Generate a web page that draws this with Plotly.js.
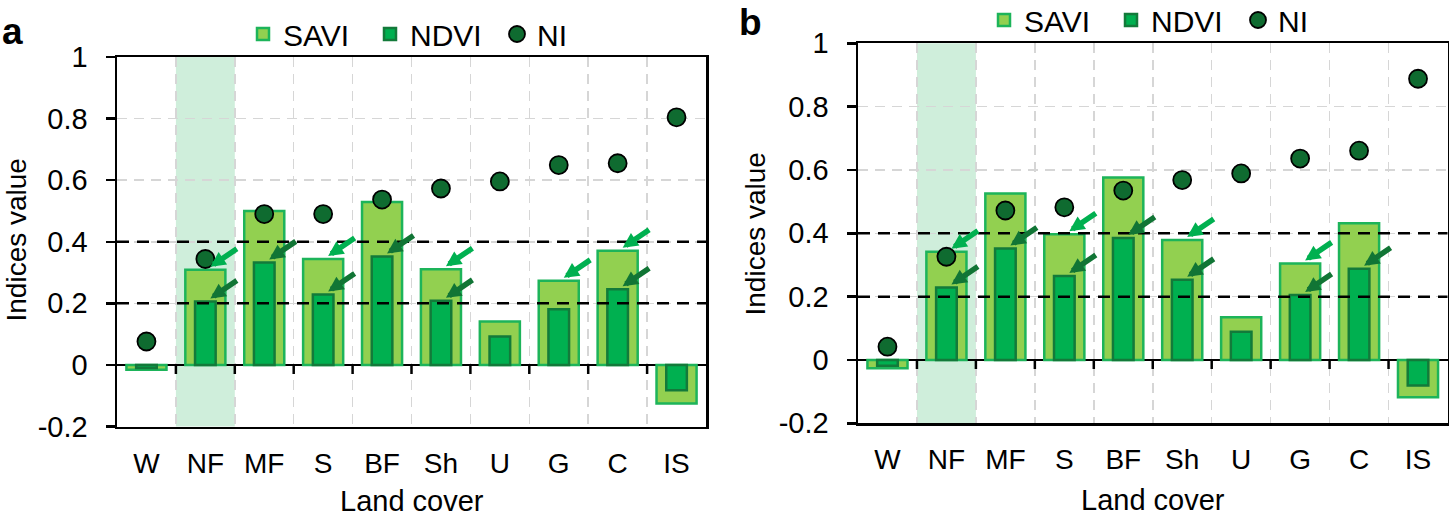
<!DOCTYPE html>
<html>
<head>
<meta charset="utf-8">
<script src="https://cdn.plot.ly/plotly-3.0.1.min.js"></script>
<style>
html,body{margin:0;padding:0;background:#fff;}
#chart{width:1449px;height:517px;}
</style>
</head>
<body>
<div id="chart"></div>
<script>
// ---- data ----
const categories = ['W','NF','MF','S','BF','Sh','U','G','C','IS'];
const saviA = [-0.016, 0.309, 0.500, 0.344, 0.529, 0.311, 0.141, 0.273, 0.371, -0.125];
const ndviA = [-0.010, 0.206, 0.333, 0.229, 0.352, 0.208, 0.092, 0.181, 0.246, -0.082];
const niA   = [0.076, 0.344, 0.490, 0.490, 0.537, 0.573, 0.596, 0.649, 0.655, 0.804];
const saviB = [-0.026, 0.342, 0.526, 0.397, 0.576, 0.379, 0.135, 0.305, 0.432, -0.118];
const ndviB = [-0.018, 0.229, 0.352, 0.265, 0.385, 0.253, 0.089, 0.205, 0.288, -0.081];
const niB   = [0.042, 0.326, 0.472, 0.482, 0.535, 0.568, 0.589, 0.636, 0.661, 0.888];
const arrowSaviA = ['NF','S','Sh','G','C'];
const arrowNdviA = ['NF','MF','S','BF','Sh','C'];
const arrowSaviB = ['NF','S','Sh','G'];
const arrowNdviB = ['NF','MF','S','BF','Sh','G','C'];
const highlightCat = 'NF';
const thresholds = [0.2, 0.4];
const yTickVals = [-0.2, 0, 0.2, 0.4, 0.6, 0.8, 1];
const yTickText = ['-0.2', '0', '0.2', '0.4', '0.6', '0.8', '1'];
const panelLabels = ['a', 'b'];
const seriesNames = ['SAVI', 'NDVI', 'NI'];
const xTitle = 'Land cover';
const yTitle = 'Indices value';

// ---- styles ----
const FONT = 'Liberation Sans, Arial, sans-serif';
const C_SAVI = '#92d050', C_SAVI_LINE = '#1db45a';
const C_NDVI = '#00b050', C_NDVI_LINE = '#137a3a';
const C_NI = '#0f6b30';
const C_ARROW_LIGHT = '#00b050', C_ARROW_DARK = '#117535';
const W = 1449, H = 517;

function makeTraces(savi, ndvi, ni, xa, ya, leg) {
  return [
    {type:'bar', name:seriesNames[0], x:categories, y:savi, xaxis:xa, yaxis:ya, legend:leg,
     width:0.68, marker:{color:C_SAVI, line:{color:C_SAVI_LINE, width:2.5}}},
    {type:'bar', name:seriesNames[1], x:categories, y:ndvi, xaxis:xa, yaxis:ya, legend:leg,
     width:0.35, marker:{color:C_NDVI, line:{color:C_NDVI_LINE, width:2.5}}},
    {type:'scatter', mode:'markers', name:seriesNames[2], x:categories, y:ni, xaxis:xa, yaxis:ya, legend:leg,
     marker:{color:C_NI, size:18, line:{color:'#000', width:1.8}}}
  ];
}

const data = [].concat(
  makeTraces(saviA, ndviA, niA, 'x', 'y', 'legend'),
  makeTraces(saviB, ndviB, niB, 'x2', 'y2', 'legend2')
);

function xAxis(domain, anchor) {
  return {domain:domain, anchor:anchor, type:'category', categoryorder:'array', categoryarray:categories,
    range:[-0.5, 9.5], tickson:'boundaries', ticks:'', showgrid:true, gridcolor:'#d6d6d6', gridwidth:1.5,
    griddash:'10px,7px', showline:true, mirror:true, linecolor:'#000', linewidth:2.5,
    tickfont:{family:FONT, size:28, color:'#000'}, ticklabelstandoff:10, fixedrange:true, automargin:false};
}
function yAxis(domain, anchor) {
  return {domain:domain, anchor:anchor, range:[-0.2, 1], tickvals:yTickVals, ticktext:yTickText,
    ticks:'outside', ticklen:9, tickwidth:2.5, tickcolor:'#000', showgrid:true, gridcolor:'#d6d6d6',
    gridwidth:1.5, griddash:'10px,7px', zeroline:true, zerolinecolor:'#000', zerolinewidth:2.5,
    showline:true, mirror:true, linecolor:'#000', linewidth:2.5,
    tickfont:{family:FONT, size:29, color:'#000'}, ticklabelstandoff:12, fixedrange:true, automargin:false};
}

const shapes = [];
const annotations = [];
[['x','y'],['x2','y2']].forEach(function(ax){
  const xi = categories.indexOf(highlightCat);
  shapes.push({type:'rect', xref:ax[0], yref:ax[1]+' domain', x0:xi-0.5, x1:xi+0.5, y0:0, y1:1,
    fillcolor:'#cfeedb', line:{width:0}, layer:'below'});
  thresholds.forEach(function(t){
    shapes.push({type:'line', xref:ax[0]+' domain', yref:ax[1], x0:0, x1:1, y0:t, y1:t,
      line:{color:'#000', width:2.5, dash:'12px,8px'}, layer:'above'});
  });
  for (let i = 0; i < categories.length - 1; i++) {
    shapes.push({type:'line', xref:ax[0], yref:ax[1], ysizemode:'pixel', yanchor:0,
      x0:i+0.5, x1:i+0.5, y0:0, y1:-9, line:{color:'#000', width:2.5}, layer:'above'});
  }
});

function addArrows(list, vals, xa, ya, color) {
  list.forEach(function(c){
    const i = categories.indexOf(c);
    annotations.push({xref:xa, yref:ya, x:c, y:vals[i], text:'', showarrow:true,
      ax:28, ay:-19, xshift:5, yshift:3, arrowcolor:color, arrowwidth:5.5, arrowhead:2,
      arrowsize:0.55, standoff:0});
  });
}
addArrows(arrowSaviA, saviA, 'x', 'y', C_ARROW_LIGHT);
addArrows(arrowNdviA, ndviA, 'x', 'y', C_ARROW_DARK);
addArrows(arrowSaviB, saviB, 'x2', 'y2', C_ARROW_LIGHT);
addArrows(arrowNdviB, ndviB, 'x2', 'y2', C_ARROW_DARK);

// panel labels and axis titles
const titleFont = {family:FONT, size:28, color:'#000'};
const xTitleFont = {family:FONT, size:29, color:'#000'};
annotations.push({xref:'paper', yref:'paper', x:0, y:(H-31)/H, xanchor:'left', yanchor:'middle',
  text:'<b>'+panelLabels[0]+'</b>', showarrow:false, font:{family:FONT, size:37, color:'#000'}});
annotations.push({xref:'paper', yref:'paper', x:737/W, y:1, xanchor:'left', yanchor:'top',
  text:'<b>'+panelLabels[1]+'</b>', showarrow:false, font:{family:FONT, size:37, color:'#000'}});
annotations.push({xref:'paper', yref:'paper', x:16/W, y:(H-240.5)/H, xanchor:'center', yanchor:'middle',
  text:yTitle, textangle:-90, showarrow:false, font:titleFont});
annotations.push({xref:'paper', yref:'paper', x:755/W, y:(H-234.5)/H, xanchor:'center', yanchor:'middle',
  text:yTitle, textangle:-90, showarrow:false, font:titleFont});
annotations.push({xref:'paper', yref:'paper', x:411.5/W, y:(H-501)/H, xanchor:'center', yanchor:'middle',
  text:xTitle, showarrow:false, font:xTitleFont});
annotations.push({xref:'paper', yref:'paper', x:1153/W, y:(H-500)/H, xanchor:'center', yanchor:'middle',
  text:xTitle, showarrow:false, font:xTitleFont});

const legendBase = {orientation:'h', xanchor:'left', yanchor:'middle', bgcolor:'rgba(0,0,0,0)',
  font:{family:FONT, size:30, color:'#000'}, itemclick:false, itemdoubleclick:false, traceorder:'normal',
  entrywidth:82, entrywidthmode:'pixels'};

const layout = {
  width:W, height:H, margin:{l:0, r:0, t:0, b:0, autoexpand:false}, paper_bgcolor:'#fff', plot_bgcolor:'#fff',
  barmode:'overlay', showlegend:true, font:{family:FONT, color:'#000'},
  xaxis: xAxis([117/W, 706/W], 'y'),
  yaxis: yAxis([(H-426.5)/H, (H-57)/H], 'x'),
  xaxis2: xAxis([858/W, 1447.5/W], 'y2'),
  yaxis2: yAxis([(H-423.3)/H, (H-43.3)/H], 'x2'),
  legend: Object.assign({}, legendBase, {x:243/W, y:(H-34)/H}),
  legend2: Object.assign({}, legendBase, {x:984/W, y:(H-20)/H}),
  shapes: shapes,
  annotations: annotations
};

Plotly.newPlot('chart', data, layout, {displayModeBar:false, staticPlot:true});
</script>
</body>
</html>
